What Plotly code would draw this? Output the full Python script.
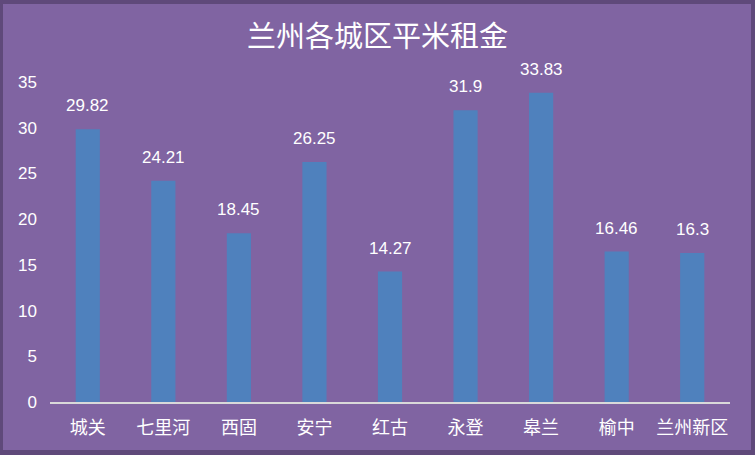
import plotly.graph_objects as go

categories = ["城关", "七里河", "西固", "安宁", "红古", "永登", "皋兰", "榆中", "兰州新区"]
rent = [29.82, 24.21, 18.45, 26.25, 14.27, 31.9, 33.83, 16.46, 16.3]
value_labels = ["29.82", "24.21", "18.45", "26.25", "14.27", "31.9", "33.83", "16.46", "16.3"]
y_ticks = [0, 5, 10, 15, 20, 25, 30, 35]

W, H = 755, 455
L, R, T, B = 50, 25, 82, 53
pw, ph = W - L - R, H - T - B

def px(x):
    return (x - L) / pw

def py(y):
    return (H - B - y) / ph

fig = go.Figure(go.Bar(
    x=categories, y=rent,
    marker=dict(color="#4F81BD", line=dict(width=0)),
    width=0.32,
))

for c, v, t in zip(categories, rent, value_labels):
    fig.add_annotation(x=c, y=v, text=t, showarrow=False, yanchor="bottom", yshift=12,
                       font=dict(color="#FFFFFF", size=17, family="Liberation Sans, Noto Sans CJK SC"))

fig.update_layout(
    width=W, height=H,
    margin=dict(l=L, r=R, t=T, b=B, pad=0),
    paper_bgcolor="#5F497A",
    plot_bgcolor="rgba(0,0,0,0)",
    title=dict(text="兰州各城区平米租金", x=0.5, xanchor="center", y=1 - 37 / H, yanchor="middle",
               font=dict(color="#FFFFFF", size=29, family="Noto Sans CJK SC")),
    showlegend=False,
    shapes=[dict(type="rect", xref="paper", yref="paper", layer="below",
                 x0=px(3), x1=px(751), y0=py(450), y1=py(4),
                 fillcolor="#8064A2", line=dict(width=0))],
    xaxis=dict(showgrid=False, showline=True, linecolor="#D9D9D9", linewidth=2,
               ticks="", ticklabelstandoff=8,
               tickfont=dict(color="#FFFFFF", size=18, family="Noto Sans CJK SC")),
    yaxis=dict(range=[0, 35], tickvals=y_ticks, showgrid=False, zeroline=False, showline=False,
               ticks="", ticklabelstandoff=12,
               tickfont=dict(color="#FFFFFF", size=17, family="Liberation Sans, Noto Sans")),
    bargap=0.68,
)

fig.write_html("out.html")
